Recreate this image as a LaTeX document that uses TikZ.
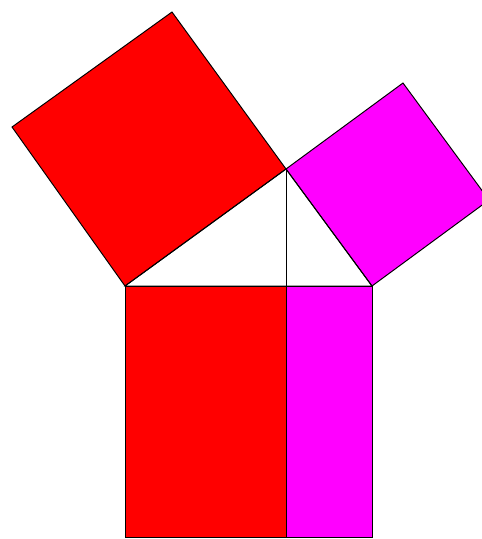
\documentclass[tikz,border=0pt]{standalone}
\usepackage{xcolor}
\usepackage{tikz}
\definecolor{legred}{RGB}{255,0,0}
\definecolor{legpink}{RGB}{255,0,255}

\begin{document}
\begin{tikzpicture}[x=0.02cm,y=-0.02cm,line width=0.55pt]
\tikzset{leg/.style={fill=legred,draw=black},
  short/.style={fill=legpink,draw=black}}
\useasboundingbox (0,0) rectangle (482,539);
\clip (0,0) rectangle (482,539);

% Triangle corners
\coordinate (A) at (125,286);
\coordinate (B) at (372,286);
\coordinate (C) at (286,169);
\coordinate (H) at (286,286);
\coordinate (A') at (125,537);
\coordinate (B') at (372,537);
\coordinate (H') at (286,537);

% Square on the long leg
\draw[leg] (A) -- (12,127) -- (172,12) -- (C) -- cycle;

% Square on the short leg
\draw[short] (C) -- (403,83) -- (489,200) -- (B) -- cycle;

% Square on the hypotenuse
\draw[leg] (A) rectangle (H');
\draw[short] (H) rectangle (B');

% Triangle and altitude
\draw (A) -- (C) -- (B) -- cycle;
\draw (C) -- (H);
\end{tikzpicture}
\end{document}
